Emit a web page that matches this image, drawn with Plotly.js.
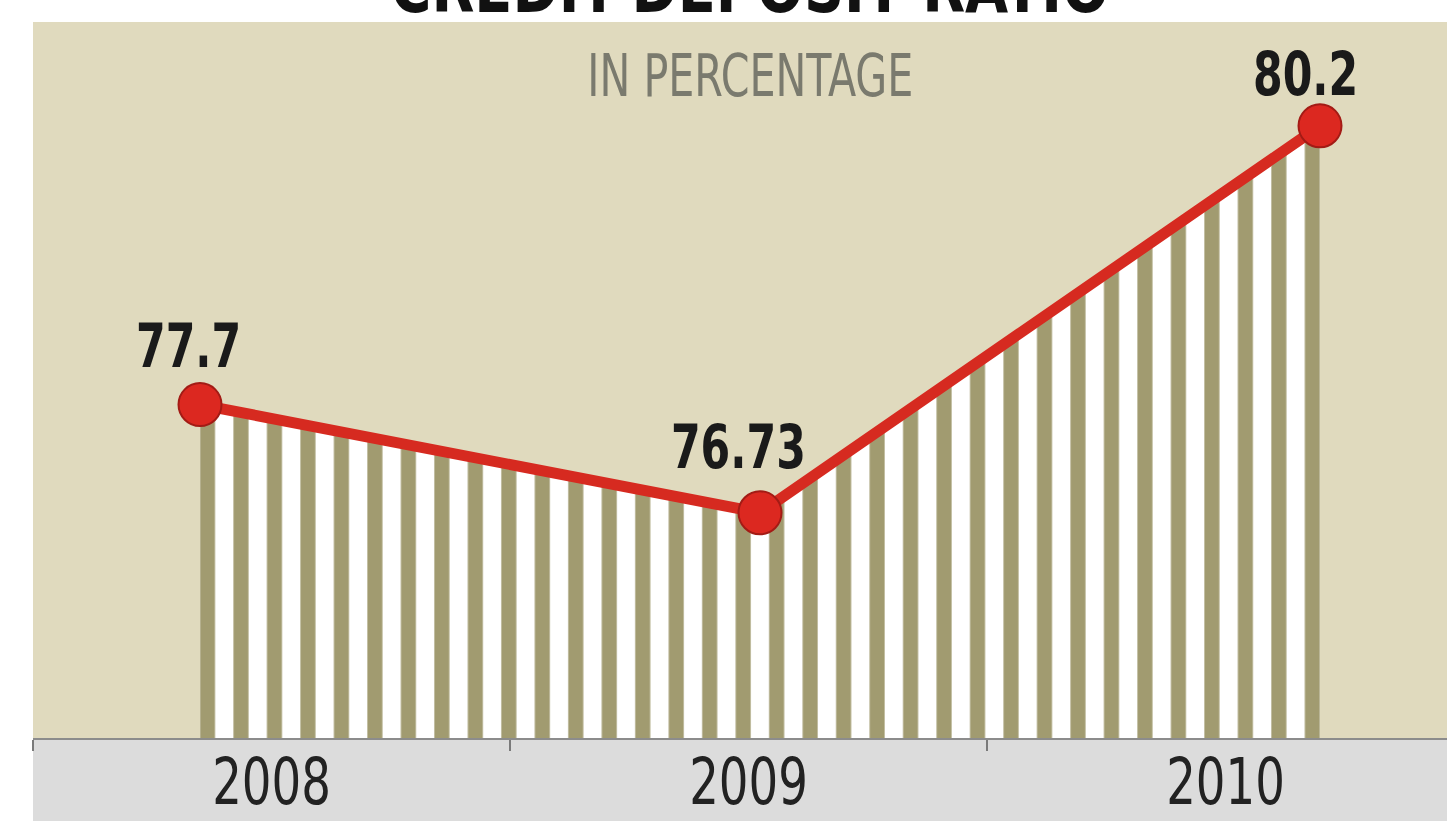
<!DOCTYPE html>
<html>
<head>
<meta charset="utf-8">
<script src="https://cdn.plot.ly/plotly-3.0.1.min.js"></script>
<style>html,body{margin:0;padding:0;background:#fff;}#chart{width:1447px;height:821px;}</style>
</head>
<body>
<div id="chart"></div>
<script>
// ---- data ----
const years = [2008, 2009, 2010];
const yearLabels = ['2008', '2009', '2010'];
const ratio = [77.7, 76.73, 80.2];
const ratioText = ['77.7', '76.73', '80.2'];

// ---- styling / placement (not data) ----
const labelShiftX = [-12, -22, -15];
const labelShiftY = [59, 66, 52];
const COND = "'DejaVu Sans Condensed', 'Liberation Sans Narrow', 'DejaVu Sans', sans-serif";

const W = 1447, H = 821;
const mL = 33, mT = 22, mB = 83, mR = 0;
const plotW = W - mL - mR, plotH = H - mT - mB;
const stripeSize = 33.48;
const patternOriginPx = 56.84;           // where the stripe pattern starts
const dom2 = (patternOriginPx - mL) / plotW;
const pxPerYear = 560;
const x2start = years[0] - (200 - patternOriginPx) / pxPerYear;
const x2end = x2start + (W - mR - patternOriginPx) / pxPerYear;

const traces = [
  { // category axis carrier (draws nothing)
    x: yearLabels, y: ratio, mode: 'none', xaxis: 'x', yaxis: 'y',
    hoverinfo: 'skip', showlegend: false
  },
  { // striped area + red line + markers
    x: years, y: ratio, xaxis: 'x2', yaxis: 'y',
    mode: 'lines+markers', fill: 'tozeroy',
    fillpattern: { shape: '|', size: stripeSize, solidity: 0.45, fgcolor: '#a19b70', bgcolor: '#ffffff', fgopacity: 1, fillmode: 'replace' },
    line: { color: '#d62a20', width: 11 },
    marker: { size: 43, color: '#dc2820', line: { color: '#a31b15', width: 2 } },
    cliponaxis: false,
    hoverinfo: 'skip', showlegend: false
  }
];

const annotations = ratio.map((v, i) => ({
  x: years[i], y: v, xref: 'x2', yref: 'y',
  text: ratioText[i], showarrow: false,
  xanchor: 'center', yanchor: 'middle',
  xshift: labelShiftX[i], yshift: labelShiftY[i],
  font: { family: COND, size: 60, color: '#1a1a1a', weight: 'bold' }
}));
annotations.push({
  x: (750 - mL) / plotW, y: 1, xref: 'paper', yref: 'paper',
  text: 'IN PERCENTAGE', showarrow: false,
  xanchor: 'center', yanchor: 'middle', yshift: -54,
  font: { family: COND, size: 58, color: '#7a7a6e' }
});

const layout = {
  width: W, height: H,
  margin: { l: mL, r: mR, t: mT, b: mB, pad: 0 },
  paper_bgcolor: '#ffffff',
  plot_bgcolor: '#e0dabe',
  showlegend: false,
  title: {
    text: 'CREDIT-DEPOSIT RATIO',
    x: 750 / W, xanchor: 'center', xref: 'container',
    y: 1 - 12 / H, yanchor: 'bottom', yref: 'container',
    font: { family: COND, size: 72, color: '#111111', weight: 'bold' }
  },
  xaxis: {
    type: 'category', categoryarray: yearLabels, categoryorder: 'array',
    range: [-0.5, -0.5 + plotW / 477],
    tickson: 'boundaries', ticks: 'outside', ticklen: 11, tickwidth: 1.5, tickcolor: '#7a7a7a',
    showline: true, linecolor: '#8c8c8c', linewidth: 2,
    showgrid: false, zeroline: false,
    tickfont: { family: COND, size: 64, color: '#222222' },
    ticklabelstandoff: -13,
    fixedrange: true
  },
  xaxis2: {
    domain: [dom2, 1], anchor: 'y', range: [x2start, x2end],
    visible: false, showgrid: false, zeroline: false, fixedrange: true
  },
  yaxis: {
    range: [74.71, 74.71 + plotH / 111.5],
    visible: false, showgrid: false, zeroline: false, fixedrange: true
  },
  shapes: [{
    type: 'rect', xref: 'paper', yref: 'paper',
    x0: 0, x1: 1, y0: -mB / plotH, y1: 0,
    fillcolor: '#dcdcdc', line: { width: 0 }, layer: 'below'
  }],
  annotations: annotations
};

// horizontal squeeze so the installed condensed face matches the reference's narrower type
function squeeze(gd) {
  const rules = [
    ['.annotation-text', 0.79],
    ['.xtick text', 0.81],
    ['.gtitle', 0.86]
  ];
  rules.forEach(([sel, f]) => {
    gd.querySelectorAll(sel).forEach(t => {
      const len = t.getComputedTextLength();
      if (len > 0) {
        t.setAttribute('textLength', (len * f).toFixed(1));
        t.setAttribute('lengthAdjust', 'spacingAndGlyphs');
      }
    });
  });
}

Plotly.newPlot('chart', traces, layout, { displayModeBar: false, staticPlot: true })
  .then(gd => squeeze(gd));
</script>
</body>
</html>
